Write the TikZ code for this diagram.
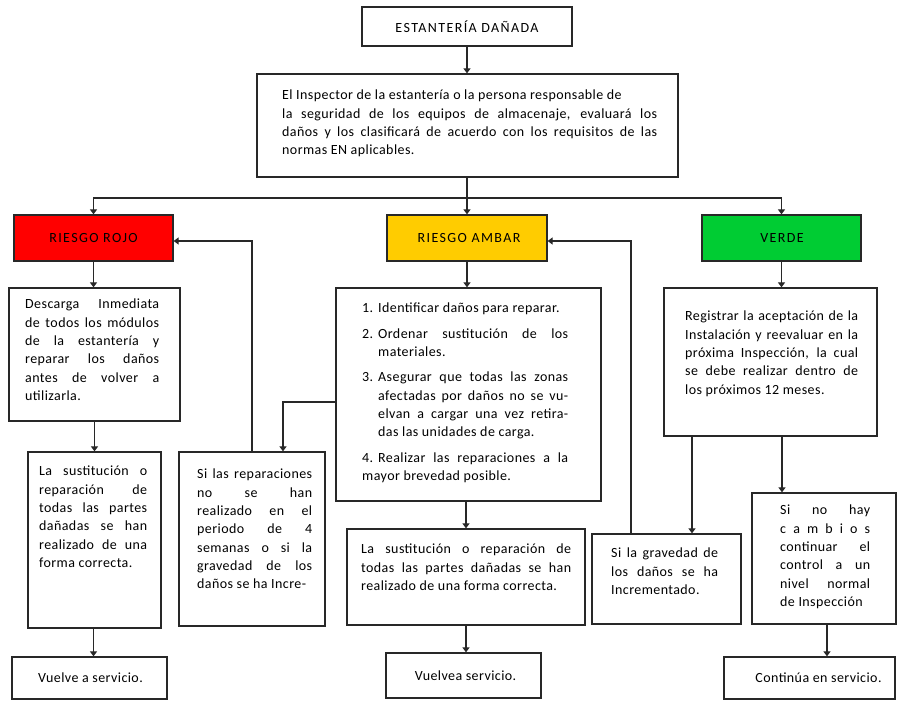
\documentclass[tikz,border=0pt]{standalone}
\usepackage{fontspec}
\setmainfont{Carlito}[LetterSpace=3]
\newfontfamily\capsfont{Carlito}[LetterSpace=10]
\usetikzlibrary{arrows.meta,calc}
\definecolor{rojo}{RGB}{255,0,0}
\definecolor{ambar}{RGB}{255,204,0}
\definecolor{verdec}{RGB}{0,204,51}
\definecolor{linea}{RGB}{40,40,40}
\newcommand{\myfont}{\fontsize{14}{18.3}\selectfont\tolerance=10000\hyphenpenalty=10000\exhyphenpenalty=10000}
\begin{document}
\begin{tikzpicture}[x=1pt,y=-1pt,
  box/.style={draw=linea, line width=1.3pt, fill=white, inner sep=0pt},
  txt/.style={inner sep=0pt, anchor=north west, align=justify, font=\myfont},
  lbl/.style={inner sep=0pt, font=\fontsize{14}{16}\selectfont},
  caplbl/.style={inner sep=0pt, font=\capsfont\fontsize{14}{16}\selectfont},
  arr/.style={draw=linea, line width=1.3pt, -{Triangle[width=7pt,length=5pt]}},
  ln/.style={draw=linea, line width=1.3pt}]
\useasboundingbox (0,0) rectangle (898,701);

% boxes
\node[box, minimum width=210pt, minimum height=39pt] (top) at (467,26.5) {};
\node[caplbl] (toplbl) at (467,26.5) {ESTANTERÍA DAÑADA};
\node[box, minimum width=421pt, minimum height=103pt] (insp) at (467.5,125.5) {};
\node[box, fill=rojo, minimum width=159pt, minimum height=46pt] (red) at (93.5,238) {};
\node[caplbl] (redlbl) at (93.5,238) {RIESGO ROJO};
\node[box, fill=ambar, minimum width=160pt, minimum height=46pt] (amber) at (467,238) {};
\node[caplbl] (amberlbl) at (469,238) {RIESGO AMBAR};
\node[box, fill=verdec, minimum width=159pt, minimum height=46pt] (verde) at (781.5,238) {};
\node[caplbl] (verdelbl) at (782,238) {VERDE};
\node[box, minimum width=171pt, minimum height=133pt] (desc) at (94.5,354.5) {};
\node[box, minimum width=133pt, minimum height=176pt] (lsL) at (94.5,540) {};
\node[box, minimum width=155pt, minimum height=42pt] (vuL) at (89.5,678) {};
\node[lbl] (vuLlbl) at (90.5,678) {Vuelve a servicio.};
\node[box, minimum width=146pt, minimum height=174pt] (siRep) at (252,539) {};
\node[box, minimum width=265pt, minimum height=213pt] (list) at (468.5,394.5) {};
\node[box, minimum width=238pt, minimum height=96pt] (midS) at (466,577) {};
\node[box, minimum width=155pt, minimum height=45pt] (vuM) at (463.5,675.5) {};
\node[lbl] (vuMlbl) at (465.5,675.5) {Vuelvea servicio.};
\node[box, minimum width=213pt, minimum height=148pt] (reg) at (770.5,362) {};
\node[box, minimum width=149pt, minimum height=90pt] (siGrav) at (666.5,579) {};
\node[box, minimum width=144pt, minimum height=131pt] (siNo) at (824,558.5) {};
\node[box, minimum width=171pt, minimum height=42pt] (cont) at (809.5,678) {};
\node[lbl] (contlbl) at (818.5,678) {Continúa en servicio.};

% texts
\node[txt, text width=375pt] (insptxt) at (282,90) {El Inspector de la estantería o la persona responsable de\hfill\break la seguridad de los equipos de almacenaje, evaluará los\linebreak daños y los clasificará de acuerdo con los requisitos de las\linebreak normas EN aplicables.};
\node[txt, text width=134pt] (desctxt) at (25,299) {Descarga Inmediata\linebreak de todos los módulos\linebreak de la estantería y\linebreak reparar los daños\linebreak antes de volver a\linebreak utilizarla.};
\node[txt, text width=108pt] (lsLtxt) at (39,466) {La sustitución o\linebreak reparación de\linebreak todas las partes\linebreak dañadas se han\linebreak realizado de una\linebreak forma correcta.};
\node[txt, text width=115pt] (siReptxt) at (197,469) {Si las reparaciones\linebreak no se han\linebreak realizado en el\linebreak periodo de 4\linebreak semanas o si la\linebreak gravedad de los\linebreak daños se ha Incre-};
\node[txt, text width=206pt] (listtxt) at (362,303) {\setlength{\parskip}{7pt}%
\noindent\hangindent=16pt\hangafter=1\makebox[16pt][l]{1.}Identificar daños para reparar.\par
\noindent\hangindent=16pt\hangafter=1\makebox[16pt][l]{2.}Ordenar sustitución de los\linebreak materiales.\par
\noindent\hangindent=16pt\hangafter=1\makebox[16pt][l]{3.}Asegurar que todas las zonas\linebreak afectadas por daños no se vu-\linebreak elvan a cargar una vez retira-\linebreak das las unidades de carga.\par
\noindent\hangindent=16pt\hangafter=1\makebox[16pt][l]{4.}Realizar las reparaciones a la\linebreak mayor brevedad posible.};
\node[txt, text width=210pt] (midStxt) at (361,544) {La sustitución o reparación de\linebreak todas las partes dañadas se han\linebreak realizado de una forma correcta.};
\node[txt, text width=173pt] (regtxt) at (685,311) {Registrar la aceptación de la\linebreak Instalación y reevaluar en la\linebreak próxima Inspección, la cual\linebreak se debe realizar dentro de\linebreak los próximos 12 meses.};
\node[txt, text width=107pt] (siGravtxt) at (611,548) {Si la gravedad de\linebreak los daños se ha\linebreak Incrementado.};
\node[txt, text width=90pt] (siNotxt) at (780,505) {\parfillskip=0pt Si no hay\linebreak c a m b i o s\linebreak continuar el\linebreak control a un\linebreak nivel normal\linebreak de Inspección};

% connectors
\coordinate (bus) at (467,198);
\draw[arr] (top.south) -- (insp.north -| top.south);
\draw[ln] (insp.south -| bus) -- (bus);
\draw[arr] (bus) -| (red.north);
\draw[arr] (bus) -- (amber.north -| bus);
\draw[arr] (bus) -| (verde.north);
\draw[arr] (red.south) -- (red.south |- desc.north);
\draw[arr] (desc.south) -- (desc.south |- lsL.north);
\draw[arr] (lsL.south -| red.south) -- (vuL.north -| red.south);
\draw[arr] (siRep.north) |- ([yshift=-3pt]red.east);
\draw[arr] ([yshift=-7.5pt]list.west) -| ([xshift=31pt]siRep.north);
\draw[arr] (amber.south) -- (amber.south |- list.north);
\draw[arr] (list.south -| midS.north) -- (midS.north);
\draw[arr] (midS.south) -- (midS.south |- vuM.north);
\draw[arr] ([xshift=-35.5pt]siGrav.north) |- ([yshift=-3pt]amber.east);
\draw[arr] (verde.south) -- (verde.south |- reg.north);
\draw[arr] ([xshift=-78.5pt]reg.south) -- ([xshift=-78.5pt]reg.south |- siGrav.north);
\draw[arr] ([xshift=11.5pt]reg.south) -- ([xshift=11.5pt]reg.south |- siNo.north);
\draw[arr] ([xshift=3pt]siNo.south) -- ([xshift=3pt]siNo.south |- cont.north);
\end{tikzpicture}
\end{document}
